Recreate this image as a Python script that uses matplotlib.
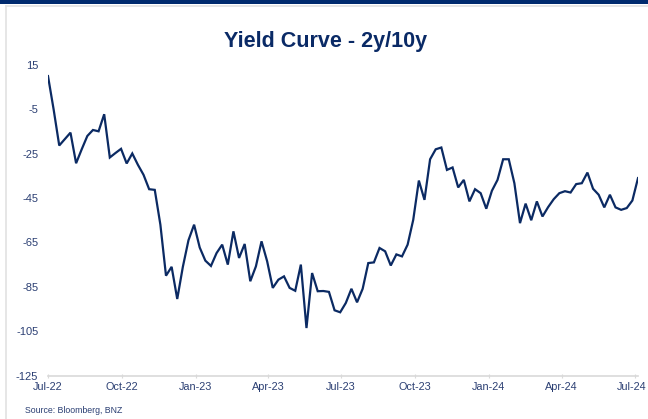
import matplotlib
matplotlib.use("Agg")
import matplotlib.pyplot as plt
import matplotlib.transforms as mtransforms
import pandas as pd
from matplotlib.patches import Rectangle
from matplotlib.lines import Line2D

plt.rcParams['font.family'] = ['Liberation Sans', 'DejaVu Sans']

start_date = "2022-07-01"
spread_bp = [10, -5, -21.3, -18.4, -15.5, -29.3, -23, -17, -14.3, -14.9,
             -7.2, -26.7, -24.7, -22.8, -29.4, -24.9, -30, -34.5, -41, -41.3,
             -57, -80, -76, -90.5, -76, -64, -57, -67.3, -73.2, -75.6,
             -69.8, -66, -75, -60, -72, -65.7, -82.5, -75.8, -64.5, -73.5,
             -85.5, -81.8, -80.3, -85.5, -86.8, -75, -103.6, -78.8, -87, -86.9,
             -87.3, -95.6, -96.5, -92.3, -85.9, -92, -85.9, -74.3, -74, -67.5,
             -69, -75.4, -70.4, -71.3, -66, -54.8, -37.1, -45.8, -27.5, -23,
             -22.2, -32.3, -31.2, -40.2, -36.8, -46.5, -41, -42.8, -49.8, -41.7,
             -36.8, -27.5, -27.5, -38.3, -56.3, -47.5, -55, -46.5, -53.3, -49.1,
             -45.5, -42.8, -41.9, -42.5, -38.7, -38.3, -33.5, -40.8, -43.5, -49.2,
             -43.5, -49.2, -50.3, -49.5, -46.1, -36]
dates = pd.date_range(start_date, periods=len(spread_bp), freq="7D")

y_ticks = [15, -5, -25, -45, -65, -85, -105, -125]
x_tick_dates = pd.date_range("2022-07-01", "2024-07-01", freq="3MS")
x_tick_labels = [d.strftime("%b-%y") for d in x_tick_dates]

navy = "#0b2a63"
label_col = "#2b3f73"

fig = plt.figure(figsize=(6.48, 4.19), dpi=100)
W, H = 648, 419

# top band and frame
fig.add_artist(Rectangle((0, 1 - 4 / H), 1, 4 / H, transform=fig.transFigure,
                         facecolor="#002a6e", edgecolor="none"))
fig.add_artist(Line2D([5.5 / W, 5.5 / W], [0, 1 - 6.5 / H], transform=fig.transFigure,
                      color="#e2e2e2", lw=1.2))
fig.add_artist(Line2D([5.5 / W, 1], [1 - 6.5 / H, 1 - 6.5 / H], transform=fig.transFigure,
                      color="#e2e2e2", lw=1.2))

left, right = 48 / W, 638 / W
bottom, top = (H - 375.5) / H, (H - 65) / H
ax = fig.add_axes([left, bottom, right - left, top - bottom])

ax.plot(dates, spread_bp, color=navy, lw=1.6, solid_joinstyle="miter")

ax.set_ylim(-125, 15)
ax.set_xlim(pd.Timestamp("2022-07-01"), dates[-1])
ax.set_yticks(y_ticks)
ax.set_yticklabels([str(v) for v in y_ticks])
ax.set_xticks(x_tick_dates)
ax.set_xticklabels(x_tick_labels)

for s in ["top", "right", "left"]:
    ax.spines[s].set_visible(False)
ax.spines["bottom"].set_color("#d9d9d9")
ax.spines["bottom"].set_linewidth(1.2)
ax.tick_params(axis="y", length=0, pad=7, labelsize=8, labelcolor=label_col)
ax.tick_params(axis="x", length=3, direction="inout", color="#d9d9d9", pad=3,
               labelsize=7.8, labelcolor=label_col)

# keep the last date label inside the canvas
last = ax.get_xticklabels()[-1]
last.set_transform(last.get_transform() +
                   mtransforms.ScaledTranslation(-3 / 100, 0, fig.dpi_scale_trans))

fig.text(326 / W, 1 - 42 / H, "Yield Curve - 2y/10y", ha="center", va="center",
         fontsize=15.5, fontweight="bold", color="#0a2a66")
fig.text(25 / W, 1 - 410 / H, "Source: Bloomberg, BNZ", ha="left", va="center",
         fontsize=6.3, color=label_col)

fig.savefig("out.png", dpi=100)
